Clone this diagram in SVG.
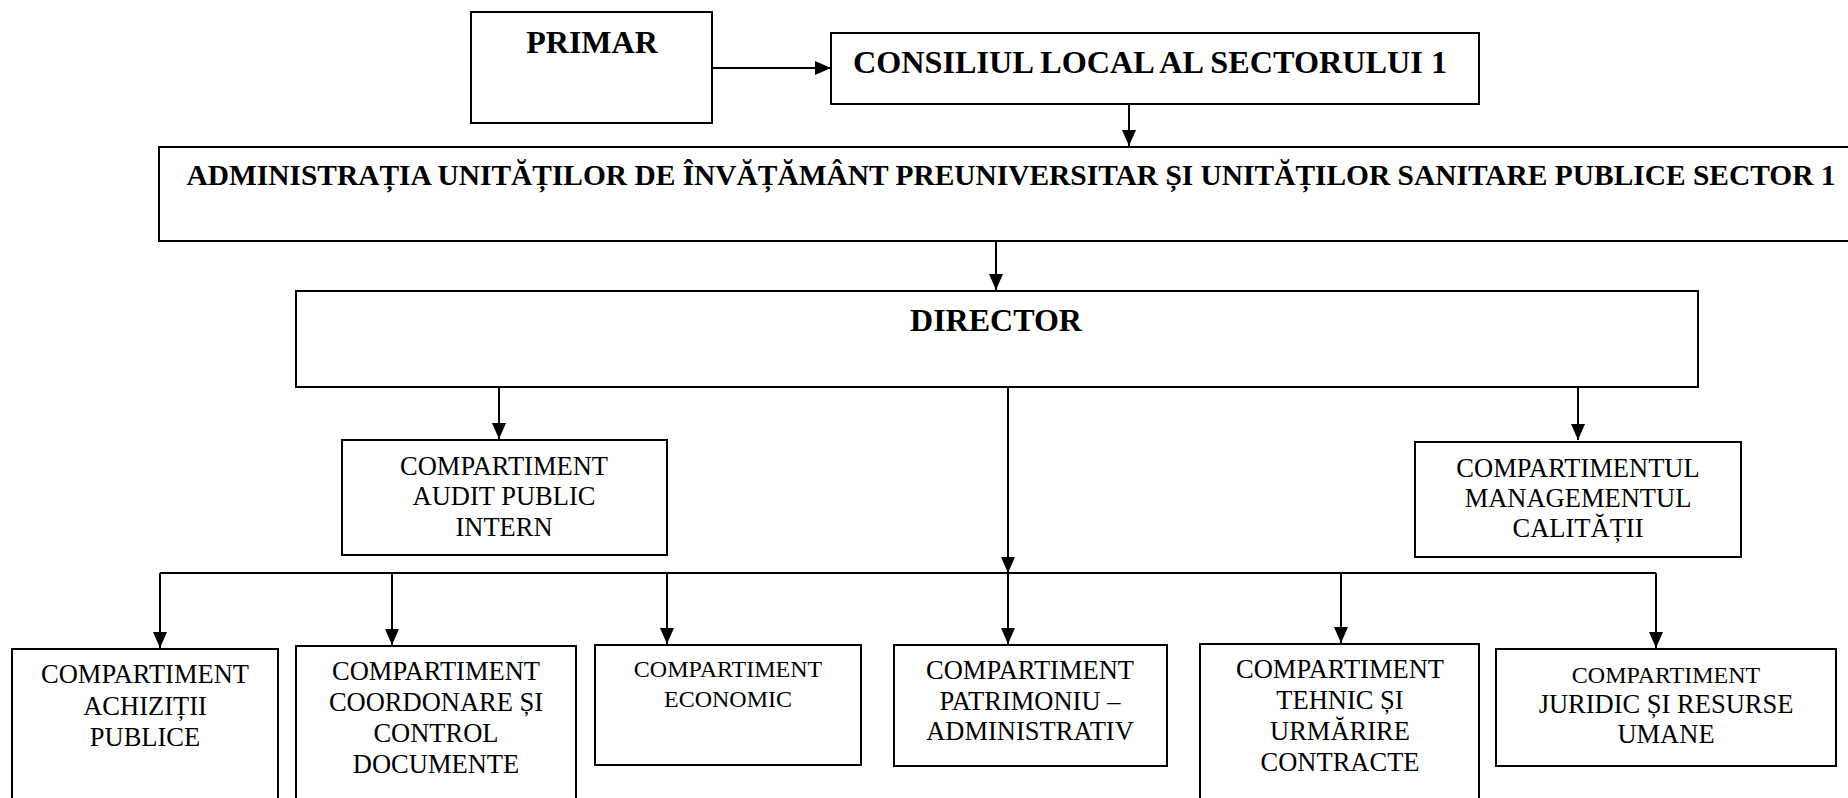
<svg xmlns="http://www.w3.org/2000/svg" width="1848" height="798" viewBox="0 0 1848 798">
<style>
.box{fill:#fff;stroke:#000;stroke-width:2}
.h{font-family:"Liberation Serif","Times New Roman",serif;font-weight:bold;font-size:32px;fill:#000;text-anchor:middle}
.t{font-family:"Liberation Serif","Times New Roman",serif;font-size:26.5px;fill:#000;text-anchor:middle}
.s{font-size:24px}
.c{fill:none;stroke:#000;stroke-width:2}
</style>
<defs>
<marker id="ah" markerUnits="userSpaceOnUse" markerWidth="16" markerHeight="14" refX="16" refY="7" orient="auto">
<path d="M0,0 L16,7 L0,14 z" fill="#000"/>
</marker>
</defs>
<rect width="1848" height="798" fill="#fff"/>
<g id="connectors">
<path class="c" d="M712,68 H831" marker-end="url(#ah)"/>
<path class="c" d="M1129,100 V146" marker-end="url(#ah)"/>
<path class="c" d="M996,237 V290" marker-end="url(#ah)"/>
<path class="c" d="M499,388 V439" marker-end="url(#ah)"/>
<path class="c" d="M1578,388 V440" marker-end="url(#ah)"/>
<path class="c" d="M1008,388 V573" marker-end="url(#ah)"/>
<path class="c" d="M160,573 H1656"/>
<path class="c" d="M160,573 V648" marker-end="url(#ah)"/>
<path class="c" d="M392,572 V645" marker-end="url(#ah)"/>
<path class="c" d="M667,573 V644" marker-end="url(#ah)"/>
<path class="c" d="M1008,573 V644" marker-end="url(#ah)"/>
<path class="c" d="M1341,573 V643" marker-end="url(#ah)"/>
<path class="c" d="M1656,573 V648" marker-end="url(#ah)"/>
</g>
<g id="primar">
<rect class="box" x="471" y="12" width="241" height="111"/>
<text class="h" x="592" y="53">PRIMAR</text>
</g>
<g id="consiliul">
<rect class="box" x="831" y="33" width="648" height="71"/>
<text class="h" x="1150" y="73" textLength="594" lengthAdjust="spacingAndGlyphs">CONSILIUL LOCAL AL SECTORULUI 1</text>
</g>
<g id="administratia">
<rect class="box" x="159" y="147" width="1700" height="94"/>
<text class="h" x="1011" y="185" style="font-size:29px" textLength="1649" lengthAdjust="spacingAndGlyphs">ADMINISTRAȚIA UNITĂȚILOR DE ÎNVĂȚĂMÂNT PREUNIVERSITAR ȘI UNITĂȚILOR SANITARE PUBLICE SECTOR 1</text>
</g>
<g id="director">
<rect class="box" x="296" y="291" width="1402" height="96"/>
<text class="h" x="996" y="331">DIRECTOR</text>
</g>
<g id="audit">
<rect class="box" x="342" y="440" width="325" height="115"/>
<text class="t" x="504" y="475">COMPARTIMENT</text>
<text class="t" x="504" y="505">AUDIT PUBLIC</text>
<text class="t" x="504" y="536">INTERN</text>
</g>
<g id="calitate">
<rect class="box" x="1415" y="442" width="326" height="115"/>
<text class="t" x="1578" y="477">COMPARTIMENTUL</text>
<text class="t" x="1578" y="507">MANAGEMENTUL</text>
<text class="t" x="1578" y="537">CALITĂȚII</text>
</g>
<g id="achizitii">
<rect class="box" x="12" y="649" width="266" height="160"/>
<text class="t" x="145" y="683">COMPARTIMENT</text>
<text class="t" x="145" y="715">ACHIZIȚII</text>
<text class="t" x="145" y="746">PUBLICE</text>
</g>
<g id="coordonare">
<rect class="box" x="296" y="646" width="280" height="163"/>
<text class="t" x="436" y="680">COMPARTIMENT</text>
<text class="t" x="436" y="711">COORDONARE ȘI</text>
<text class="t" x="436" y="742">CONTROL</text>
<text class="t" x="436" y="773">DOCUMENTE</text>
</g>
<g id="economic">
<rect class="box" x="595" y="645" width="266" height="120"/>
<text class="t s" x="728" y="677">COMPARTIMENT</text>
<text class="t s" x="728" y="707">ECONOMIC</text>
</g>
<g id="patrimoniu">
<rect class="box" x="894" y="645" width="273" height="121"/>
<text class="t" x="1030" y="679">COMPARTIMENT</text>
<text class="t" x="1030" y="710">PATRIMONIU –</text>
<text class="t" x="1030" y="740">ADMINISTRATIV</text>
</g>
<g id="tehnic">
<rect class="box" x="1200" y="644" width="279" height="165"/>
<text class="t" x="1340" y="678">COMPARTIMENT</text>
<text class="t" x="1340" y="709">TEHNIC ȘI</text>
<text class="t" x="1340" y="740">URMĂRIRE</text>
<text class="t" x="1340" y="771">CONTRACTE</text>
</g>
<g id="juridic">
<rect class="box" x="1496" y="649" width="340" height="117"/>
<text class="t s" x="1666" y="683">COMPARTIMENT</text>
<text class="t" x="1666" y="713">JURIDIC ȘI RESURSE</text>
<text class="t" x="1666" y="743">UMANE</text>
</g>
</svg>
